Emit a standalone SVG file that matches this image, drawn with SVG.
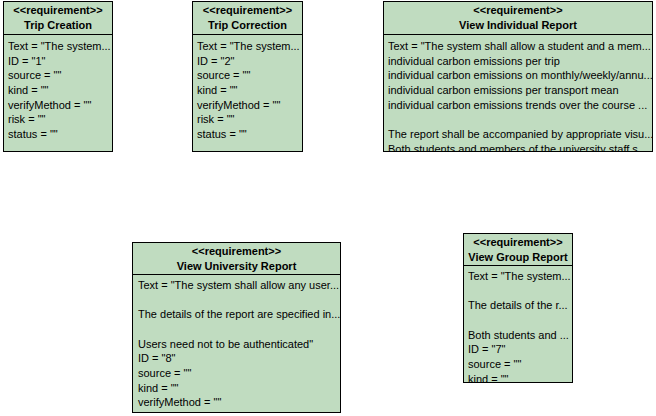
<svg xmlns="http://www.w3.org/2000/svg" width="656" height="416" viewBox="0 0 656 416">
<style>
.box{fill:#c0dcc0;stroke:#000;stroke-width:1}
.div{stroke:#000;stroke-width:1}
.h{font-family:"Liberation Sans",Arial,sans-serif;font-size:11px;font-weight:bold;fill:#000;text-anchor:middle}
.t{font-family:"Liberation Sans",Arial,sans-serif;font-size:11px;fill:#000}
</style>
<defs>
<clipPath id="c1"><rect x="4" y="35" width="108" height="116"/></clipPath>
<clipPath id="c2"><rect x="193" y="35" width="109" height="116"/></clipPath>
<clipPath id="c3"><rect x="384" y="35" width="268" height="116"/></clipPath>
<clipPath id="c4"><rect x="133" y="275" width="207" height="137"/></clipPath>
<clipPath id="c5"><rect x="464" y="266" width="108" height="116"/></clipPath>
</defs>
<rect width="656" height="416" fill="#fff"/>
<g id="connectors"></g>
<g id="trip-creation">
<rect class="box" x="3.5" y="1.5" width="109" height="150"/>
<line class="div" x1="3.5" y1="34.5" x2="112.5" y2="34.5"/>
<text class="h" x="58" y="14">&lt;&lt;requirement&gt;&gt;</text>
<text class="h" x="58" y="29">Trip Creation</text>
<g class="t" clip-path="url(#c1)">
<text x="8" y="50">Text = "The system...</text>
<text x="8" y="64.7">ID = "1"</text>
<text x="8" y="79.3">source = ""</text>
<text x="8" y="94">kind = ""</text>
<text x="8" y="108.7">verifyMethod = ""</text>
<text x="8" y="123.3">risk = ""</text>
<text x="8" y="138">status = ""</text>
</g>
</g>
<g id="trip-correction">
<rect class="box" x="192.5" y="1.5" width="110" height="150"/>
<line class="div" x1="192.5" y1="34.5" x2="302.5" y2="34.5"/>
<text class="h" x="247.5" y="14">&lt;&lt;requirement&gt;&gt;</text>
<text class="h" x="247.5" y="29">Trip Correction</text>
<g class="t" clip-path="url(#c2)">
<text x="197" y="50">Text = "The system...</text>
<text x="197" y="64.7">ID = "2"</text>
<text x="197" y="79.3">source = ""</text>
<text x="197" y="94">kind = ""</text>
<text x="197" y="108.7">verifyMethod = ""</text>
<text x="197" y="123.3">risk = ""</text>
<text x="197" y="138">status = ""</text>
</g>
</g>
<g id="view-individual-report">
<rect class="box" x="383.5" y="1.5" width="269" height="150"/>
<line class="div" x1="383.5" y1="34.5" x2="652.5" y2="34.5"/>
<text class="h" x="518" y="14">&lt;&lt;requirement&gt;&gt;</text>
<text class="h" x="518" y="29">View Individual Report</text>
<g class="t" clip-path="url(#c3)">
<text x="388" y="50">Text = "The system shall allow a student and a mem...</text>
<text x="388" y="64.7">individual carbon emissions per trip</text>
<text x="388" y="79.3">individual carbon emissions on monthly/weekly/annu...</text>
<text x="388" y="94">individual carbon emissions per transport mean</text>
<text x="388" y="108.7">individual carbon emissions trends over the course ...</text>
<text x="388" y="138">The report shall be accompanied by appropriate visu...</text>
<text x="388" y="152.7">Both students and members of the university staff s...</text>
</g>
</g>
<g id="view-university-report">
<rect class="box" x="132.5" y="242.5" width="208" height="170"/>
<line class="div" x1="132.5" y1="274.5" x2="340.5" y2="274.5"/>
<text class="h" x="236.5" y="254.5">&lt;&lt;requirement&gt;&gt;</text>
<text class="h" x="236.5" y="269.5">View University Report</text>
<g class="t" clip-path="url(#c4)">
<text x="138" y="289">Text = "The system shall allow any user...</text>
<text x="138" y="318.3">The details of the report are specified in...</text>
<text x="138" y="347.7">Users need not to be authenticated"</text>
<text x="138" y="362.3">ID = "8"</text>
<text x="138" y="377">source = ""</text>
<text x="138" y="391.7">kind = ""</text>
<text x="138" y="406.3">verifyMethod = ""</text>
</g>
</g>
<g id="view-group-report">
<rect class="box" x="463.5" y="233.5" width="109" height="149"/>
<line class="div" x1="463.5" y1="265.5" x2="572.5" y2="265.5"/>
<text class="h" x="518" y="245.5">&lt;&lt;requirement&gt;&gt;</text>
<text class="h" x="518" y="260.5">View Group Report</text>
<g class="t" clip-path="url(#c5)">
<text x="468" y="280">Text = "The system...</text>
<text x="468" y="309.3">The details of the r...</text>
<text x="468" y="338.7">Both students and ...</text>
<text x="468" y="353.3">ID = "7"</text>
<text x="468" y="368">source = ""</text>
<text x="468" y="382.7">kind = ""</text>
</g>
</g>
</svg>
